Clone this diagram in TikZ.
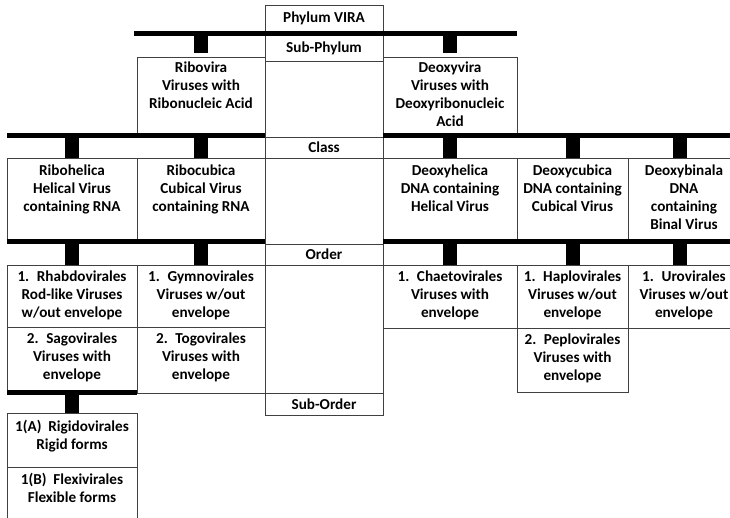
\documentclass[tikz,border=0pt]{standalone}
\usepackage{fontspec}
\setmainfont{Carlito}
\newcommand\gp{\hspace{0.5em}}
\newcommand\tcell[7]{% name, x1, y1, x2, y2, text offset, text
  \node[cellbox, anchor=north west, minimum width={(#4-#2)*1pt}, minimum height={(#5-#3)*1pt}] (#1) at (#2,#3) {};
  \node[txt, anchor=north] (#1-t) at ([yshift=-#6pt]#1.north) {#7};}
\newcommand\lcell[6]{% name, x1, y1, x2, y2, label centred
  \node[cellbox, txt, anchor=north west, minimum width={(#4-#2)*1pt}, minimum height={(#5-#3)*1pt}] (#1) at (#2,#3) {#6};}
\begin{document}
\begin{tikzpicture}[x=1pt,y=-1pt,
  cellbox/.style={draw=black!75, line width=0.9pt, inner sep=0pt, outer sep=0pt},
  txt/.style={font=\bfseries\fontsize{15.2}{18}\selectfont, align=center, inner sep=0pt},
  barline/.style={line width=5pt, black},
  stub/.style={line width=14pt, black},
]
\useasboundingbox (0,0) rectangle (730,517);
\clip (0,0) rectangle (730,517);
\fill[white] (0,0) rectangle (730,517);

% middle column
\lcell{phylum}{265}{5}{383}{31}{Phylum VIRA}
\lcell{subphylum}{265}{35}{383}{61}{Sub-Phylum}
\lcell{blankA}{265}{61}{383}{137}{}
\lcell{class}{265}{137}{383}{158}{Class}
\lcell{blankB}{265}{158}{383}{244}{}
\lcell{order}{265}{244}{383}{265}{Order}
\lcell{blankC}{265}{265}{383}{393}{}
\lcell{suborder}{265}{393}{383}{415}{Sub-Order}

% sub-phylum
\tcell{ribovira}{137}{57}{265}{135}{4.5}{Ribovira\\Viruses with\\Ribonucleic Acid}
\tcell{deoxyvira}{383}{57}{517}{135}{4.5}{Deoxyvira\\Viruses with\\Deoxyribonucleic\\Acid}

% class
\tcell{ribohelica}{7}{158}{137}{241}{6.5}{Ribohelica\\Helical Virus\\containing RNA}
\tcell{ribocubica}{137}{158}{265}{241}{6.5}{Ribocubica\\Cubical Virus\\containing RNA}
\tcell{deoxyhelica}{383}{158}{517}{241}{6.5}{Deoxyhelica\\DNA containing\\Helical Virus}
\tcell{deoxycubica}{517}{158}{628}{241}{6.5}{Deoxycubica\\DNA containing\\Cubical Virus}
\tcell{deoxybinala}{628}{158}{740}{241}{6.5}{Deoxybinala\\DNA\\containing\\Binal Virus}

% order
\tcell{rhabdo}{7}{265}{137}{327}{5.5}{1.\gp Rhabdovirales\\Rod-like Viruses\\w/out envelope}
\tcell{sago}{7}{327}{137}{392}{5.5}{2.\gp Sagovirales\\Viruses with\\envelope}
\tcell{gymno}{137}{265}{265}{327}{5.5}{1.\gp Gymnovirales\\Viruses w/out\\envelope}
\tcell{togo}{137}{327}{265}{393}{5.5}{2.\gp Togovirales\\Viruses with\\envelope}
\tcell{chaeto}{383}{265}{517}{328}{5.5}{1.\gp Chaetovirales\\Viruses with\\envelope}
\tcell{haplo}{517}{265}{628}{328}{5.5}{1.\gp Haplovirales\\Viruses w/out\\envelope}
\tcell{peplo}{517}{328}{628}{392}{5.5}{2.\gp Peplovirales\\Viruses with\\envelope}
\tcell{uro}{628}{265}{740}{328}{5.5}{1.\gp Urovirales\\Viruses w/out\\envelope}

% sub-order
\tcell{rigido}{7}{413}{137}{467}{7.5}{1(A)\hspace{0.45em}Rigidovirales\\Rigid forms}
\tcell{flexi}{7}{467}{137}{530}{6.5}{1(B)\hspace{0.45em}Flexivirales\\Flexible forms}

% bars
\coordinate (spL) at (134,33); \coordinate (spR) at (517,33);
\draw[barline] (spL) -- (spR);
\coordinate (clL) at (7,135); \coordinate (clM) at (265,135);
\coordinate (crL) at (383,135); \coordinate (crR) at (730,135);
\draw[barline] (clL) -- (clM);
\draw[barline] (crL) -- (crR);
\coordinate (olL) at (7,241.5); \coordinate (olM) at (265,241.5);
\coordinate (orL) at (383,241.5); \coordinate (orR) at (730,241.5);
\draw[barline] (olL) -- (olM);
\draw[barline] (orL) -- (orR);
\coordinate (soL) at (7,392); \coordinate (soR) at (137,392);
\draw[barline] (soL) -- (soR);

% stubs
\draw[stub] ([yshift=4pt]ribovira.north) -- ++(0,-19);
\draw[stub] ([yshift=4pt]deoxyvira.north) -- ++(0,-19);
\draw[stub] (ribohelica.north) -- ++(0,-22);
\draw[stub] (ribocubica.north) -- ++(0,-22);
\draw[stub] (deoxyhelica.north) -- ++(0,-22);
\draw[stub] (deoxycubica.north) -- ++(0,-22);
\draw[stub] ([xshift=-4pt]deoxybinala.north) -- ++(0,-22);
\draw[stub] (rhabdo.north) -- ++(0,-22);
\draw[stub] (gymno.north) -- ++(0,-22);
\draw[stub] (chaeto.north) -- ++(0,-22);
\draw[stub] (haplo.north) -- ++(0,-22);
\draw[stub] ([xshift=-4pt]uro.north) -- ++(0,-22);
\draw[stub] (rigido.north) -- ++(0,-20);
\end{tikzpicture}
\end{document}
